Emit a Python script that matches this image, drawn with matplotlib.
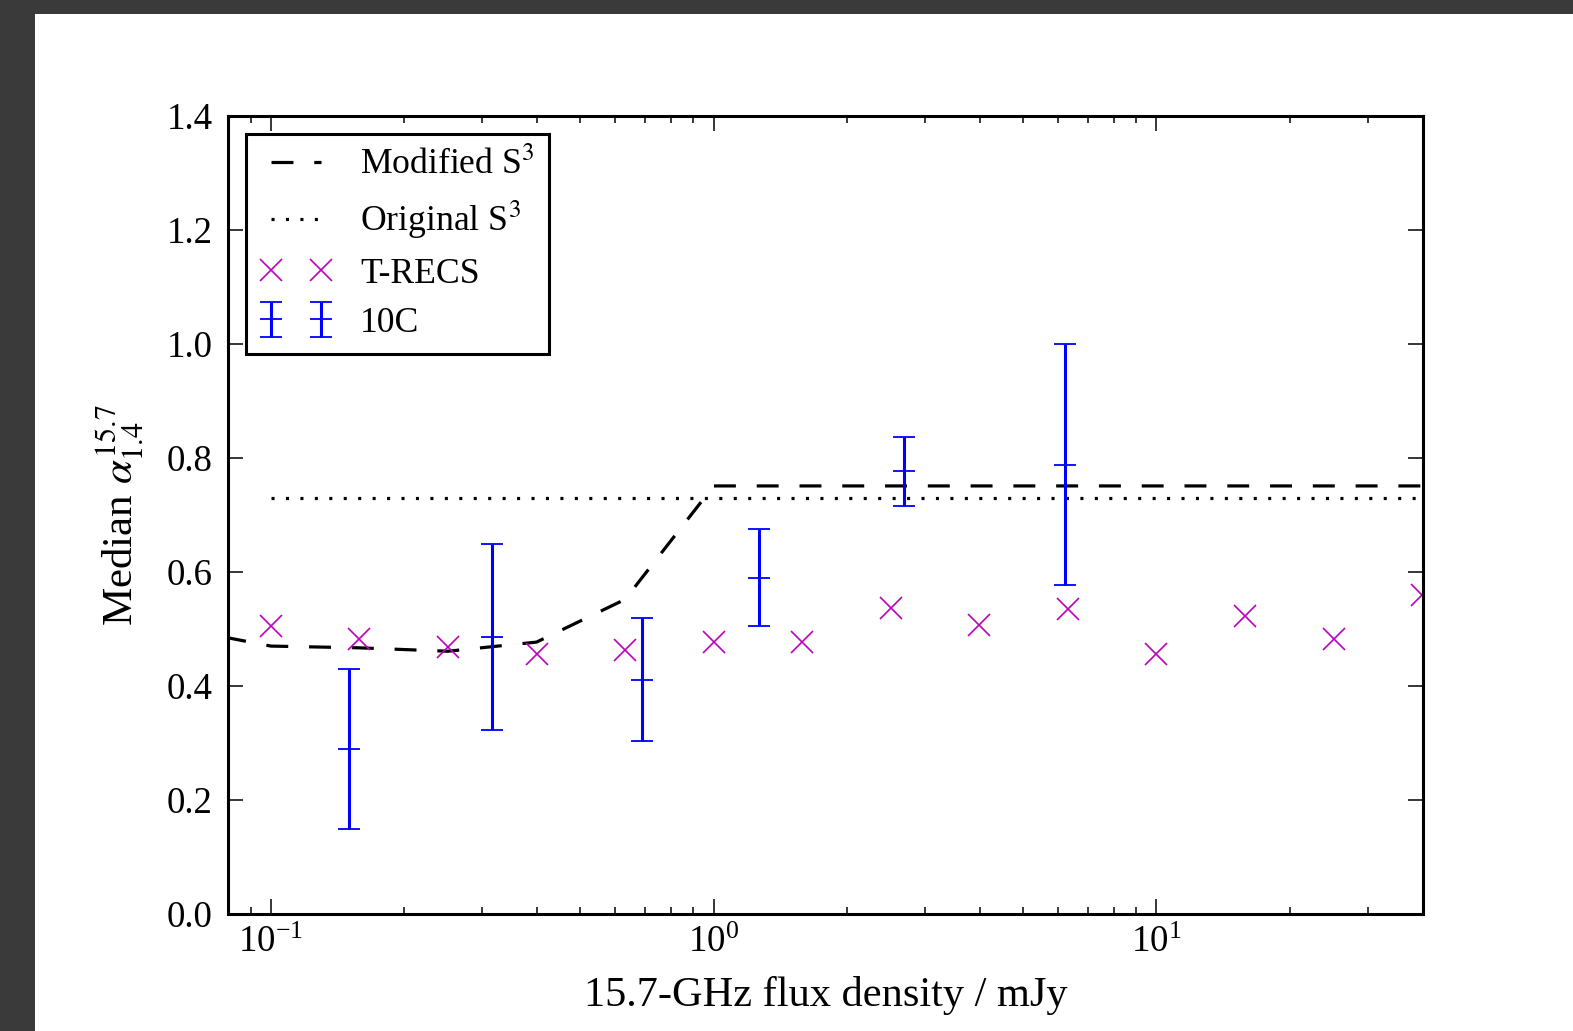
import numpy as np
import matplotlib
matplotlib.use("Agg")
import matplotlib.pyplot as plt
from matplotlib.patches import Rectangle

plt.rcParams['font.family'] = ['Liberation Serif', 'DejaVu Serif']
plt.rcParams['mathtext.fontset'] = 'stix'
plt.rcParams['lines.scale_dashes'] = False

# model curves
mod_flux = [0.0631, 0.1, 0.158, 0.251, 0.398, 0.631, 1.0, 40.0]
mod_alpha = [0.50, 0.470, 0.467, 0.461, 0.477, 0.552, 0.751, 0.751]
orig_flux = [0.1, 40.0]
orig_alpha = [0.730, 0.730]

# T-RECS medians
trecs_flux = [0.1, 0.158, 0.251, 0.398, 0.631, 1.0, 1.585, 2.512, 3.981,
              6.310, 10.0, 15.85, 25.12, 39.81]
trecs_alpha = [0.506, 0.482, 0.468, 0.457, 0.464, 0.477, 0.477, 0.536, 0.507,
               0.535, 0.456, 0.522, 0.482, 0.560]

# 10C medians with uncertainties
c10_flux = [0.150, 0.315, 0.690, 1.263, 2.69, 6.21]
c10_alpha = [0.289, 0.486, 0.411, 0.590, 0.777, 0.788]
c10_lo = [0.149, 0.322, 0.303, 0.505, 0.716, 0.577]
c10_hi = [0.430, 0.650, 0.519, 0.675, 0.837, 1.000]

fig = plt.figure(figsize=(15.73, 10.31), dpi=100)
fig.patch.set_facecolor('#3a3a3a')
fig.patches.append(Rectangle((35 / 1573, 0), 1, 1 - 14 / 1031, transform=fig.transFigure,
                             facecolor='white', edgecolor='none', zorder=-10))

ax = fig.add_axes([228 / 1573, 1 - 914 / 1031, (1423 - 228) / 1573, (914 - 116) / 1031])

ax.plot(mod_flux, mod_alpha, color='k', lw=2.3, dashes=(15.8, 15.0), label='Modified S$^3$')
ax.plot(orig_flux, orig_alpha, color='k', lw=2.3, dashes=(2.2, 8.2), label='Original S$^3$')
ax.plot(trecs_flux, trecs_alpha, ls='none', marker='x', ms=16, mew=1.2,
        color=(0.75, 0, 0.75), label='T-RECS')

a = np.array(c10_alpha)
yerr = [a - np.array(c10_lo), np.array(c10_hi) - a]
ax.errorbar(c10_flux, c10_alpha, yerr=yerr, fmt='_', ms=16, mew=1.3, color='b',
            elinewidth=2.2, capsize=8, capthick=1.3, label='10C')

ax.set_xscale('log')
ax.set_xlim(0.08, 40)
ax.set_ylim(0, 1.4)
ax.set_yticks(np.arange(0, 1.41, 0.2))
ax.set_yticklabels(['%.1f' % v for v in np.arange(0, 1.41, 0.2)])

for s in ax.spines.values():
    s.set_linewidth(2.2)
ax.tick_params(which='both', direction='in', top=True, right=True, width=1.1)
ax.tick_params(which='major', length=10.5, labelsize=26.6)
ax.tick_params(axis='y', which='major', pad=11)
ax.tick_params(axis='x', which='major', pad=8)
ax.tick_params(which='minor', length=5)

ax.set_xlabel('15.7-GHz flux density / mJy', fontsize=30.5, labelpad=12)
ax.set_ylabel(r'Median $\alpha_{1.4}^{15.7}$', fontsize=31, labelpad=15)

leg = ax.legend(loc='upper left', fontsize=25.7, numpoints=2, borderaxespad=0.5,
                borderpad=0.4, labelspacing=0.46, handlelength=2.0, handletextpad=0.8,
                fancybox=False, framealpha=1, edgecolor='k')
leg.get_frame().set_linewidth(2.2)

fig.savefig('out.png', dpi=100, facecolor=fig.get_facecolor())
